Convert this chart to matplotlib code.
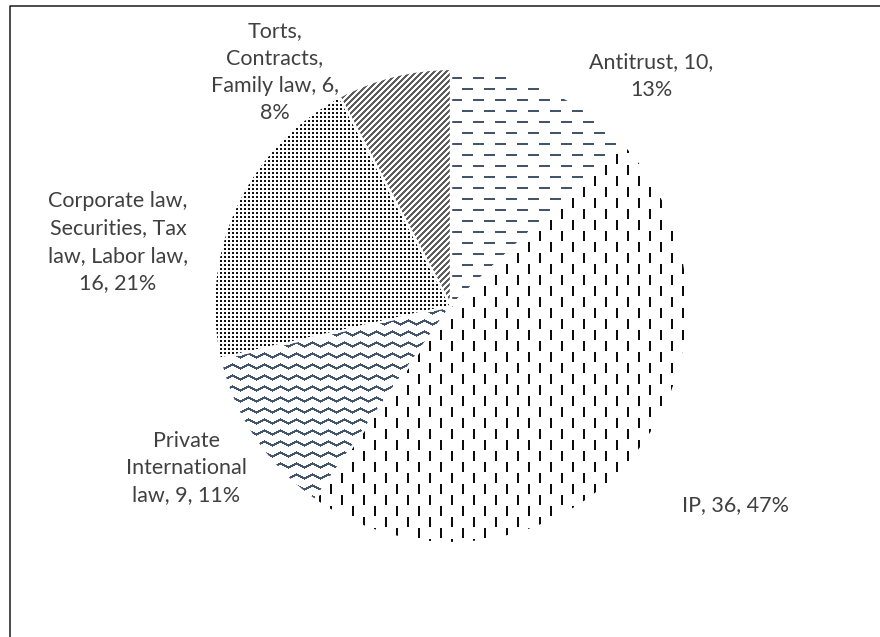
import numpy as np
import matplotlib
matplotlib.use("Agg")
import matplotlib.pyplot as plt
from matplotlib.colors import to_rgba

# data
categories = ["Antitrust", "IP", "Private International law",
              "Corporate law, Securities, Tax law, Labor law",
              "Torts, Contracts, Family law"]
values = [10, 36, 9, 16, 6]
percents = [13, 47, 11, 21, 8]
label_fmt = [
    "Antitrust, {v},\n{p}%",
    "IP, {v}, {p}%",
    "Private\nInternational\nlaw, {v}, {p}%",
    "Corporate law,\nSecurities, Tax\nlaw, Labor law,\n{v}, {p}%",
    "Torts,\nContracts,\nFamily law, {v},\n{p}%",
]

W, H = 880, 637
fig = plt.figure(figsize=(W / 100, H / 100), dpi=100)
ax = fig.add_axes([0, 0, 1, 1])

cx, cy, r = 451, H - 306, 237

wedges, _ = ax.pie(values, startangle=90, counterclock=False,
                   center=(cx, cy), radius=r,
                   wedgeprops=dict(facecolor="none", edgecolor="white",
                                   linewidth=1.6, zorder=3))

# fill patterns, pixel based like the Excel pattern fills
yy, xx = np.mgrid[0:H, 0:W]
slate = "#44546A"
pat_hdash = ((yy % 11) < 2) & (((xx + 11 * ((yy // 11) % 2)) % 22) < 11)
pat_vdash = ((xx % 11) < 2) & (((yy + 11 * ((xx // 11) % 2)) % 22) < 10)
wave = np.abs((xx % 16) - 8) / 2.0
pat_zig = ((yy - wave) % 11) < 2.5
pat_dots = ((yy % 4) < 2) & ((xx % 4) < 2)
pat_diag = ((xx + yy) % 6) < 3

patterns = [(pat_hdash, slate), (pat_vdash, "#0d0d0d"), (pat_zig, slate),
            (pat_dots, "#111111"), (pat_diag, "#5e5e5e")]

for w, (mask, col) in zip(wedges, patterns):
    img = np.zeros((H, W, 4))
    img[mask] = to_rgba(col)
    im = ax.imshow(img, extent=(0, W, 0, H), origin="upper",
                   interpolation="nearest", zorder=2)
    im.set_clip_path(w)

label_pos = [(651, 76), (736, 505), (186, 468), (118, 242), (275, 72)]
for fmt, v, p, (lx, ly) in zip(label_fmt, values, percents, label_pos):
    ax.text(lx, H - ly, fmt.format(v=v, p=p), ha="center", va="center",
            fontsize=15.5, family="Lato", color="#404040", linespacing=1.45)

ax.set_xlim(0, W)
ax.set_ylim(0, H)
ax.set_aspect("equal")
ax.axis("off")

# chart area border (only top and left fall inside the picture)
ax.plot([10, 10, W + 5], [-5, H - 6, H - 6], color="#1a1a1a", lw=1.1,
        clip_on=False, zorder=5)

fig.savefig("out.png", dpi=100)
